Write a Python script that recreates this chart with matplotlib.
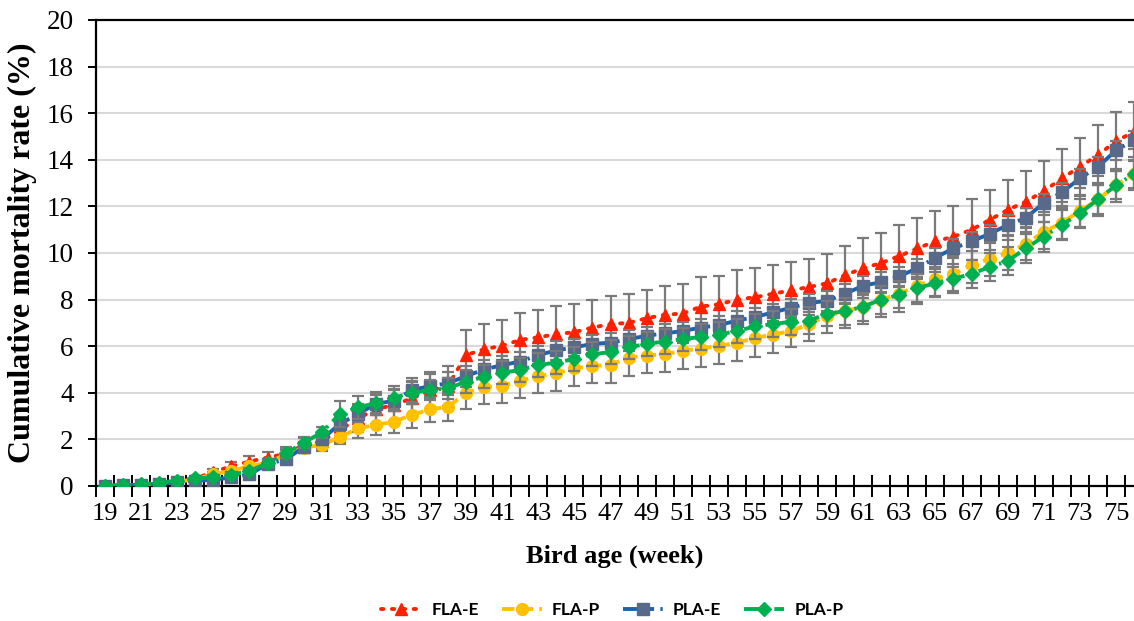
import matplotlib.pyplot as plt
import numpy as np

weeks = list(range(19, 77))
tick_weeks = list(range(19, 77, 2))

fla_e = [0, 0.03, 0.07, 0.1, 0.18, 0.32, 0.6, 0.85, 1.05, 1.22, 1.38, 1.75, 1.92,
         2.4, 2.9, 3.29, 3.48, 3.76, 4.1, 4.3, 5.62, 5.87, 6.02, 6.27, 6.38, 6.52,
         6.6, 6.8, 6.95, 7.0, 7.2, 7.35, 7.4, 7.7, 7.8, 8.0, 8.1, 8.25, 8.4, 8.54,
         8.7, 9.05, 9.35, 9.57, 9.87, 10.2, 10.5, 10.7, 11.0, 11.42, 11.85, 12.2,
         12.65, 13.2, 13.7, 14.2, 14.8, 15.2]
fla_p = [0, 0.03, 0.06, 0.1, 0.17, 0.3, 0.5, 0.65, 0.85, 1.0, 1.35, 1.65, 1.76,
         2.09, 2.47, 2.62, 2.76, 3.05, 3.29, 3.4, 4.0, 4.24, 4.3, 4.52, 4.72, 4.84,
         5.05, 5.15, 5.2, 5.5, 5.6, 5.65, 5.8, 5.9, 6.0, 6.15, 6.35, 6.5, 6.65, 6.95,
         7.3, 7.5, 7.7, 8.0, 8.25, 8.6, 8.9, 9.1, 9.5, 9.75, 10.0, 10.4, 10.9, 11.3,
         11.8, 12.3, 12.9, 13.4]
pla_e = [0, 0.03, 0.05, 0.1, 0.15, 0.23, 0.26, 0.37, 0.5, 0.94, 1.14, 1.66, 2.0,
         2.66, 3.09, 3.52, 3.66, 4.12, 4.29, 4.41, 4.72, 5.0, 5.19, 5.34, 5.62, 5.82,
         5.95, 6.1, 6.15, 6.3, 6.45, 6.55, 6.65, 6.8, 6.9, 7.1, 7.25, 7.45, 7.65, 7.85,
         7.95, 8.25, 8.6, 8.75, 9.0, 9.35, 9.8, 10.2, 10.5, 10.82, 11.2, 11.5, 12.15,
         12.6, 13.2, 13.7, 14.4, 14.85]
pla_p = [0, 0.04, 0.07, 0.14, 0.23, 0.33, 0.37, 0.47, 0.66, 0.97, 1.4, 1.85, 2.3,
         3.08, 3.38, 3.55, 3.79, 4.0, 4.12, 4.19, 4.48, 4.69, 4.86, 4.98, 5.19, 5.3,
         5.45, 5.65, 5.75, 5.95, 6.1, 6.2, 6.3, 6.4, 6.5, 6.65, 6.85, 6.95, 7.05, 7.1,
         7.4, 7.5, 7.7, 8.0, 8.2, 8.5, 8.7, 8.9, 9.1, 9.4, 9.65, 10.2, 10.7, 11.2,
         11.7, 12.3, 12.9, 13.4]

# standard deviations
fla_e_sd = [0, 0.03, 0.05, 0.05, 0.08, 0.1, 0.15, 0.2, 0.25, 0.25, 0.3, 0.35, 0.35,
            0.5, 0.6, 0.65, 0.7, 0.75, 0.8, 0.85, 1.08, 1.1, 1.12, 1.15, 1.18, 1.22,
            1.2, 1.2, 1.22, 1.22, 1.2, 1.22, 1.25, 1.25, 1.22, 1.25, 1.25, 1.22, 1.2,
            1.22, 1.25, 1.25, 1.28, 1.3, 1.35, 1.3, 1.3, 1.3, 1.3, 1.27, 1.28, 1.3,
            1.3, 1.28, 1.25, 1.3, 1.26, 1.26]
fla_p_sd = [0, 0.02, 0.04, 0.05, 0.06, 0.08, 0.1, 0.12, 0.15, 0.18, 0.2, 0.22, 0.25,
            0.3, 0.4, 0.45, 0.5, 0.55, 0.55, 0.6, 0.7, 0.72, 0.72, 0.75, 0.75, 0.76,
            0.75, 0.75, 0.76, 0.76, 0.75, 0.75, 0.76, 0.78, 0.78, 0.78, 0.8, 0.78, 0.7,
            0.72, 0.72, 0.72, 0.75, 0.75, 0.78, 0.78, 0.75, 0.75, 0.78, 0.75, 0.72,
            0.7, 0.72, 0.72, 0.7, 0.72, 0.72, 0.7]
pla_e_sd = [0, 0.02, 0.03, 0.04, 0.05, 0.06, 0.08, 0.1, 0.12, 0.15, 0.18, 0.2, 0.22,
            0.3, 0.35, 0.4, 0.45, 0.5, 0.5, 0.5, 0.45, 0.42, 0.4, 0.42, 0.4, 0.4,
            0.38, 0.4, 0.4, 0.38, 0.38, 0.4, 0.4, 0.38, 0.38, 0.4, 0.4, 0.38, 0.38,
            0.4, 0.42, 0.4, 0.4, 0.42, 0.4, 0.4, 0.42, 0.42, 0.4, 0.4, 0.42, 0.42,
            0.4, 0.42, 0.42, 0.4, 0.42, 0.4]
pla_p_sd = [0, 0.02, 0.03, 0.04, 0.05, 0.06, 0.08, 0.1, 0.12, 0.15, 0.18, 0.22, 0.25,
            0.55, 0.5, 0.5, 0.5, 0.48, 0.45, 0.45, 0.5, 0.5, 0.5, 0.52, 0.5, 0.5,
            0.5, 0.52, 0.52, 0.5, 0.52, 0.52, 0.5, 0.55, 0.55, 0.52, 0.55, 0.55, 0.55,
            0.58, 0.55, 0.58, 0.6, 0.6, 0.58, 0.6, 0.6, 0.62, 0.6, 0.62, 0.6, 0.62,
            0.65, 0.65, 0.62, 0.62, 0.6, 0.6]

plt.rcParams['font.family'] = ['Liberation Serif', 'DejaVu Serif']

fig = plt.figure(figsize=(11.34, 6.21), dpi=100)
ax = fig.add_axes([0.0847, 0.2174, 1 - 0.0847, 0.7504])

series = [
    ("FLA-E", fla_e, fla_e_sd, "#FF2000", "#FF2000", "^", (0, (0.6, 2.2)), "round"),
    ("FLA-P", fla_p, fla_p_sd, "#FFC000", "#FFC000", "o", (0, (3.2, 1.6)), "butt"),
    ("PLA-E", pla_e, pla_e_sd, "#1C63AE", "#58698A", "s", (0, (8, 1.6, 0.6, 1.6)), "butt"),
    ("PLA-P", pla_p, pla_p_sd, "#00B050", "#00B050", "D", (0, (4, 1.6, 0.6, 1.6)), "butt"),
]

handles = []
for i, (name, vals, sd, lc, mc, mk, ls, cap) in enumerate(series):
    ax.errorbar(weeks, vals, yerr=sd, fmt='none', ecolor='#7a7a7a',
                elinewidth=1.6, capsize=4.5, capthick=1.6, zorder=3 + 2 * i)
    ms = 8.5 if mk != "D" else 7
    line, = ax.plot(weeks, vals, color=lc, lw=2.8, linestyle=ls,
                    dash_capstyle=cap, marker=mk, markersize=ms,
                    markerfacecolor=mc, markeredgecolor=mc, label=name,
                    zorder=4 + 2 * i)
    handles.append(line)

ax.set_xlim(18.5, 76.0)
ax.set_ylim(0, 20)
ax.set_yticks(np.arange(0, 21, 2))
ax.yaxis.grid(True, color='#d9d9d9', lw=1.5)
ax.set_axisbelow(True)

# ticks sit between the weeks, labels on every other week
ax.set_xticks(np.arange(18.5, 76, 1))
ax.set_xticklabels([])
ax.set_xticks(tick_weeks, minor=True)
ax.set_xticklabels([str(w) for w in tick_weeks], minor=True)
ax.tick_params(axis='x', which='major', direction='inout', length=16, width=1.4)
ax.tick_params(axis='x', which='minor', length=0, labelsize=19, pad=12)
ax.tick_params(axis='y', direction='out', length=6, width=1.4, labelsize=19.5, pad=10)

ax.spines['right'].set_visible(False)
for s in ['left', 'bottom', 'top']:
    ax.spines[s].set_linewidth(1.6)
    ax.spines[s].set_color('black')

ax.set_ylabel("Cumulative mortality rate (%)", fontsize=23, fontweight='bold', labelpad=7)
ax.set_xlabel("Bird age (week)", fontsize=19, fontweight='bold', labelpad=14)

fig.legend(handles=handles, loc='lower center', bbox_to_anchor=(0.54, -0.02),
           ncol=4, frameon=False, handlelength=2.3, handletextpad=0.6,
           columnspacing=1.3,
           prop={'family': 'Lato', 'weight': 'bold', 'size': 12.5})

fig.savefig("out.png", dpi=100)
